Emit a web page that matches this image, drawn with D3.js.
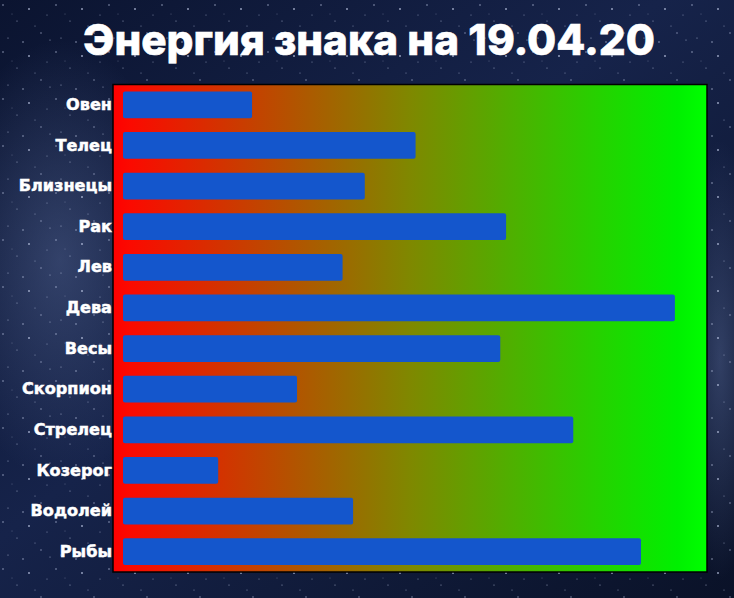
<!DOCTYPE html>
<html>
<head>
<meta charset="utf-8">
<script src="https://cdn.jsdelivr.net/npm/d3@7/dist/d3.min.js"></script>
<style>
html,body{margin:0;padding:0;background:#0c1530;overflow:hidden;}
svg{display:block;}
</style>
</head>
<body>
<div id="chart"></div>
<script>
const title = "Энергия знака на 19.04.20";
const categories = ["Овен","Телец","Близнецы","Рак","Лев","Дева","Весы","Скорпион","Стрелец","Козерог","Водолей","Рыбы"];
const values = [22.1, 50.1, 41.4, 65.6, 37.6, 94.5, 64.6, 29.8, 77.1, 16.3, 39.4, 88.7];
const xDomain = [0, 100];

const W = 734, H = 598;
const plot = {left: 113, top: 84.5, right: 707, bottom: 572};

const svg = d3.select("#chart").append("svg").attr("width", W).attr("height", H);
const defs = svg.append("defs");

// background
const bg = defs.append("linearGradient").attr("id","bg").attr("x1","0").attr("y1","0").attr("x2","1").attr("y2","1");
bg.append("stop").attr("offset","0%").attr("stop-color","#0b1430");
bg.append("stop").attr("offset","45%").attr("stop-color","#16234a");
bg.append("stop").attr("offset","100%").attr("stop-color","#0a1228");
svg.append("rect").attr("width",W).attr("height",H).attr("fill","url(#bg)");

const glow = defs.append("radialGradient").attr("id","glow");
glow.append("stop").attr("offset","0%").attr("stop-color","#5c6f9e").attr("stop-opacity",0.45);
glow.append("stop").attr("offset","100%").attr("stop-color","#5c6f9e").attr("stop-opacity",0);
svg.append("ellipse").attr("cx",60).attr("cy",260).attr("rx",120).attr("ry",220).attr("fill","url(#glow)");
svg.append("ellipse").attr("cx",720).attr("cy",360).attr("rx",40).attr("ry",220).attr("fill","url(#glow)");

// star pattern (decorative)
const pat = defs.append("pattern").attr("id","stars").attr("width",53).attr("height",47).attr("patternUnits","userSpaceOnUse");
[[3,5,0.8],[17,21,0.6],[29,9,1.0],[41,33,0.7],[8,38,0.6],[47,15,0.5],[23,42,0.8],[35,26,0.5],[12,14,0.4],[50,40,0.6]].forEach(s=>{
  pat.append("circle").attr("cx",s[0]).attr("cy",s[1]).attr("r",s[2]).attr("fill","#c8d2ee").attr("opacity",0.7);
});
svg.append("rect").attr("width",W).attr("height",H).attr("fill","url(#stars)");

// title
const t = svg.append("text").attr("x", 369).attr("y", 55).attr("text-anchor","middle")
  .attr("fill","#ffffff").attr("font-family","Inter, 'Open Sans', sans-serif").attr("font-weight",800)
  .attr("font-size",38).attr("stroke","#ffffff").attr("stroke-width",0.6).text(title);
const tw = t.node().getComputedTextLength();
t.attr("font-size", 38 * 572 / tw);

// plot gradient
const pg = defs.append("linearGradient").attr("id","pg").attr("x1","0").attr("y1","0").attr("x2","1").attr("y2","0");
pg.append("stop").attr("offset","0%").attr("stop-color","#ff0000");
pg.append("stop").attr("offset","3%").attr("stop-color","#fb0a00");
pg.append("stop").attr("offset","50%").attr("stop-color","#7f8800");
pg.append("stop").attr("offset","95%").attr("stop-color","#00f000");
pg.append("stop").attr("offset","100%").attr("stop-color","#00ff00");

svg.append("rect").attr("x",plot.left).attr("y",plot.top)
  .attr("width",plot.right-plot.left).attr("height",plot.bottom-plot.top)
  .attr("fill","url(#pg)").attr("stroke","#000").attr("stroke-width",1.5);

const x = d3.scaleLinear().domain(xDomain).range([123, 707]);
const y = d3.scaleBand().domain(categories).range([plot.top, plot.bottom]).paddingInner(0.34).paddingOuter(0.17);

svg.append("g").selectAll("rect").data(categories).join("rect")
  .attr("x", x(0))
  .attr("y", d => y(d))
  .attr("width", (d,i) => x(values[i]) - x(0))
  .attr("height", y.bandwidth())
  .attr("rx", 2)
  .attr("fill", "#1456cc");

const yAxis = d3.axisLeft(y).tickSize(0).tickPadding(1);
const ag = svg.append("g").attr("transform", `translate(${plot.left},0)`).call(yAxis);
ag.select(".domain").remove();
const labels = ag.selectAll("text")
  .attr("fill","#ffffff")
  .attr("font-family","'DejaVu Sans', sans-serif")
  .attr("font-weight","bold")
  .attr("font-size",14)
  .attr("stroke","#ffffff").attr("stroke-width",0.5);
// size labels so the longest matches the reference width
const sk = labels.filter(d => d === "Скорпион").node();
const skw = sk.getComputedTextLength();
labels.attr("font-size", 14 * 90 / skw);
</script>
</body>
</html>
